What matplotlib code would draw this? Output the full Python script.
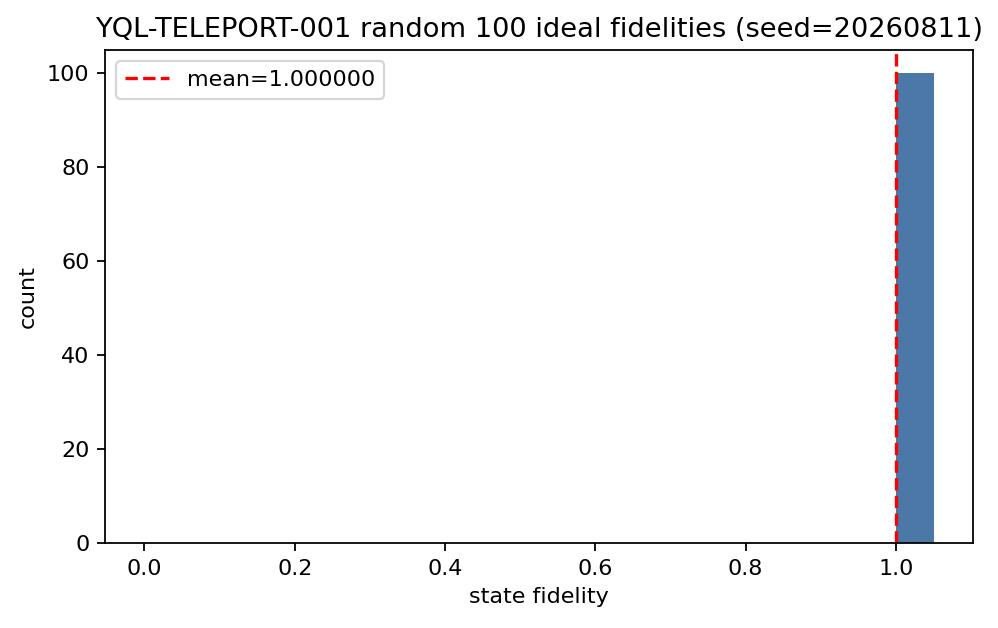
import numpy as np
import matplotlib
matplotlib.use('Agg')
import matplotlib.pyplot as plt

# 100 ideal teleport fidelities, all exactly 1
fidelities = [1.0] * 100
bin_edges = np.round(np.arange(22) * 0.05, 2)
mean_fid = float(np.mean(fidelities))

W, H = 998, 628
fig = plt.figure(figsize=(W / 160, H / 160), dpi=160)
ax = fig.add_axes([105 / W, 1 - 543 / H, (973 - 105) / W, (543 - 50) / H])
ax.hist(fidelities, bins=bin_edges, color='#4C78A8')
ax.axvline(mean_fid, color='red', linestyle='--', label=f'mean={mean_fid:.6f}')
ax.set_title('YQL-TELEPORT-001 random 100 ideal fidelities (seed=20260811)', fontsize=12.25)
ax.set_xlabel('state fidelity')
ax.set_ylabel('count')
ax.legend(loc='upper left')
fig.savefig('out.png', dpi=160)
